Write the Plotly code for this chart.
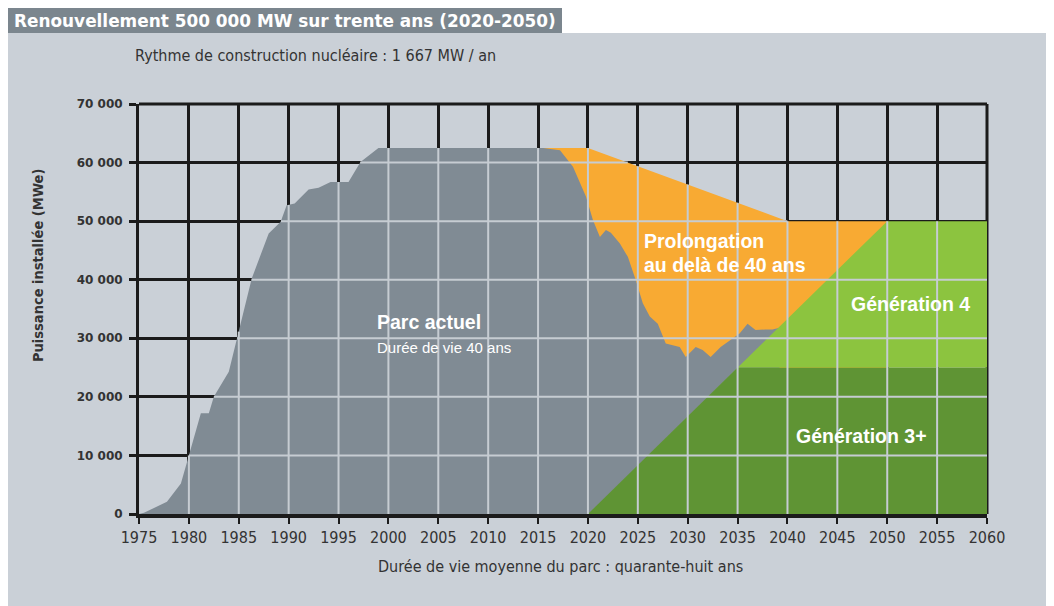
import numpy as np
import plotly.graph_objects as go

# ---------------- data ----------------
grey_years = [1975, 1975.5, 1977.8, 1979.2, 1980, 1981.2, 1982, 1982.5, 1984, 1985.2, 1986.3,
              1988, 1989.2, 1989.8, 1990.6, 1992, 1993, 1994.2, 1996, 1997.2, 1999,
              2015.5, 2017.2, 2018.5, 2019.8, 2020.5, 2021.2, 2021.8, 2022.3, 2023.2, 2024,
              2024.8, 2025.5, 2026.2, 2027, 2027.8, 2029.2, 2029.8, 2030.8, 2031.5, 2032.3,
              2033.3, 2034.3, 2035.2, 2036, 2036.8, 2037.8, 2038.5, 2039.2]
grey_mw = [0, 200, 2100, 5200, 10000, 17200, 17200, 20000, 24300, 32500, 40200,
           47900, 49900, 52700, 53000, 55400, 55700, 56700, 56700, 60100, 62500,
           62500, 62100, 59300, 54200, 50200, 47300, 48500, 48000, 46200, 43900,
           39900, 36000, 33700, 32500, 29100, 28500, 26800, 28500, 28000, 26800,
           28500, 29700, 30800, 32500, 31400, 31500, 31500, 31800]

orange_years = [2015.5, 2020, 2040, 2050]
orange_mw = [62500, 62500, 50000, 50000]

gen_years = [2020, 2035, 2050, 2060]
gen3_mw = [0, 25000, 25000, 25000]
gen4_mw = [0, 0, 25000, 25000]

x_ticks = list(range(1975, 2061, 5))
y_ticks = list(range(0, 70001, 10000))
y_tick_labels = ["0", "10 000", "20 000", "30 000", "40 000", "50 000", "60 000", "70 000"]

# ---------------- colours ----------------
PANEL = "#cad0d7"
BAR = "#7b868e"
GREY = "#808b94"
ORANGE = "#f8aa33"
LGREEN = "#8cc43f"
DGREEN = "#5f9434"
LIGHTGRID = "#c6ccd2"
BLACK = "#1b1b1b"
TXT = "#333333"
COND = "DejaVu Sans Condensed, Liberation Sans, Arial"

fig = go.Figure()

fig.add_trace(go.Scatter(x=orange_years, y=orange_mw, fill="tozeroy", mode="lines",
                         line=dict(width=0, color=ORANGE), fillcolor=ORANGE,
                         hoverinfo="skip", showlegend=False))
fig.add_trace(go.Scatter(x=grey_years, y=grey_mw, fill="tozeroy", mode="lines",
                         line=dict(width=0, color=GREY), fillcolor=GREY,
                         hoverinfo="skip", showlegend=False))
fig.add_trace(go.Scatter(x=gen_years, y=gen3_mw, stackgroup="gen", mode="lines",
                         line=dict(width=0, color=DGREEN), fillcolor=DGREEN,
                         hoverinfo="skip", showlegend=False))
fig.add_trace(go.Scatter(x=gen_years, y=gen4_mw, stackgroup="gen", mode="lines",
                         line=dict(width=0, color=LGREEN), fillcolor=LGREEN,
                         hoverinfo="skip", showlegend=False))

# the page has an 8 px body margin: reference pixel coords are shifted by OFF
OFF = 8
W, H = 1054 - OFF, 606 - OFF
L, R, T, B = 131, 67, 96, 92
pw, ph = W - L - R, H - T - B


def px(xp):
    return (xp - OFF - L) / pw


def py(yp):
    return (H - B - (yp - OFF)) / ph


shapes = [
    dict(type="rect", xref="paper", yref="paper", x0=px(7), x1=px(1070), y0=py(640), y1=py(33),
         fillcolor=PANEL, line=dict(width=0), layer="below"),
    dict(type="rect", xref="paper", yref="paper", x0=px(7), x1=px(562), y0=py(33), y1=py(8),
         fillcolor=BAR, line=dict(width=0), layer="below"),
    dict(type="line", xref="paper", yref="paper", x0=0, x1=1, y0=1, y1=1,
         line=dict(color=BLACK, width=3), layer="below"),
    dict(type="line", xref="paper", yref="paper", x0=1, x1=1, y0=0, y1=1,
         line=dict(color=BLACK, width=3), layer="below"),
]

# light grid lines over the filled areas (derived from the data envelope)
xs = np.linspace(1975, 2060, 8501)
g = np.interp(xs, grey_years, grey_mw, left=0, right=0)
o = np.where((xs >= orange_years[0]) & (xs <= orange_years[-1]),
             np.interp(xs, orange_years, orange_mw), 0)
gt = np.interp(xs, gen_years, np.array(gen3_mw) + np.array(gen4_mw), left=0)
env = np.maximum(np.maximum(g, o), gt)

for xv in x_ticks[1:-1]:
    top = float(np.interp(xv, xs, env))
    if top > 0:
        shapes.append(dict(type="line", xref="x", yref="y", x0=xv, x1=xv, y0=0, y1=top,
                           line=dict(color=LIGHTGRID, width=2), layer="above"))
for yv in y_ticks[1:-1]:
    mask = env > yv
    idx = np.flatnonzero(np.diff(np.concatenate([[0], mask.astype(int), [0]])))
    for s, e in zip(idx[0::2], idx[1::2]):
        shapes.append(dict(type="line", xref="x", yref="y", x0=float(xs[s]), x1=float(xs[e - 1]),
                           y0=yv, y1=yv, line=dict(color=LIGHTGRID, width=2), layer="above"))

annotations = [
    dict(text="Renouvellement 500 000 MW sur trente ans (2020-2050)", xref="paper", yref="paper",
         x=px(12), y=py(21), xanchor="left", yanchor="middle", showarrow=False,
         font=dict(family="DejaVu Sans", size=16.9, color="white", weight="bold")),
    dict(text="Rythme de construction nucléaire : 1 667 MW / an", xref="paper", yref="paper",
         x=px(133), y=py(56), xanchor="left", yanchor="middle", showarrow=False,
         font=dict(family=COND, size=16, color=TXT)),
    dict(text="Durée de vie moyenne du parc : quarante-huit ans", xref="paper", yref="paper",
         x=px(560), y=py(566), xanchor="center", yanchor="middle", showarrow=False,
         font=dict(family=COND, size=16, color=TXT)),
    dict(text="Puissance installée (MWe)", xref="paper", yref="paper", textangle=-90,
         x=px(38), y=py(266), xanchor="center", yanchor="middle", showarrow=False,
         font=dict(family=COND, size=14.5, color=TXT, weight="bold")),
    dict(text="Parc actuel", x=1998.7, y=32700, xanchor="left", yanchor="middle", showarrow=False,
         font=dict(family="Liberation Sans", size=19.5, color="white", weight="bold")),
    dict(text="Durée de vie 40 ans", x=1998.7, y=28400, xanchor="left", yanchor="middle", showarrow=False,
         font=dict(family="Liberation Sans", size=15, color="white")),
    dict(text="Prolongation", x=2025.4, y=46600, xanchor="left", yanchor="middle", showarrow=False,
         font=dict(family="Liberation Sans", size=19.5, color="white", weight="bold")),
    dict(text="au delà de 40 ans", x=2025.4, y=42500, xanchor="left", yanchor="middle", showarrow=False,
         font=dict(family="Liberation Sans", size=19.5, color="white", weight="bold")),
    dict(text="Génération 4", x=2052.3, y=35800, xanchor="center", yanchor="middle", showarrow=False,
         font=dict(family="Liberation Sans", size=19.5, color="white", weight="bold")),
    dict(text="Génération 3+", x=2047.4, y=13300, xanchor="center", yanchor="middle", showarrow=False,
         font=dict(family="Liberation Sans", size=19.5, color="white", weight="bold")),
]

fig.update_layout(
    width=W, height=H, autosize=False,
    margin=dict(l=L, r=R, t=T, b=B, pad=0),
    paper_bgcolor="white", plot_bgcolor="rgba(0,0,0,0)",
    shapes=shapes, annotations=annotations, showlegend=False,
    xaxis=dict(range=[1975, 2060], tickvals=x_ticks, ticks="outside", ticklen=6, tickwidth=2,
               tickcolor=BLACK, showgrid=True, gridcolor=BLACK, gridwidth=3,
               showline=True, linecolor=BLACK, linewidth=4, zeroline=False,
               tickfont=dict(family=COND, size=16, color=TXT),
               fixedrange=True),
    yaxis=dict(range=[0, 70000], tickvals=y_ticks, ticktext=y_tick_labels, ticks="outside",
               ticklen=7, tickwidth=3, tickcolor=BLACK, showgrid=True, gridcolor=BLACK,
               gridwidth=3, showline=True, linecolor=BLACK, linewidth=3, zeroline=False,
               tickfont=dict(family="DejaVu Sans", size=12, color=TXT, weight="bold"),
               ticklabelstandoff=4, fixedrange=True),
)

fig.write_html("out.html")
